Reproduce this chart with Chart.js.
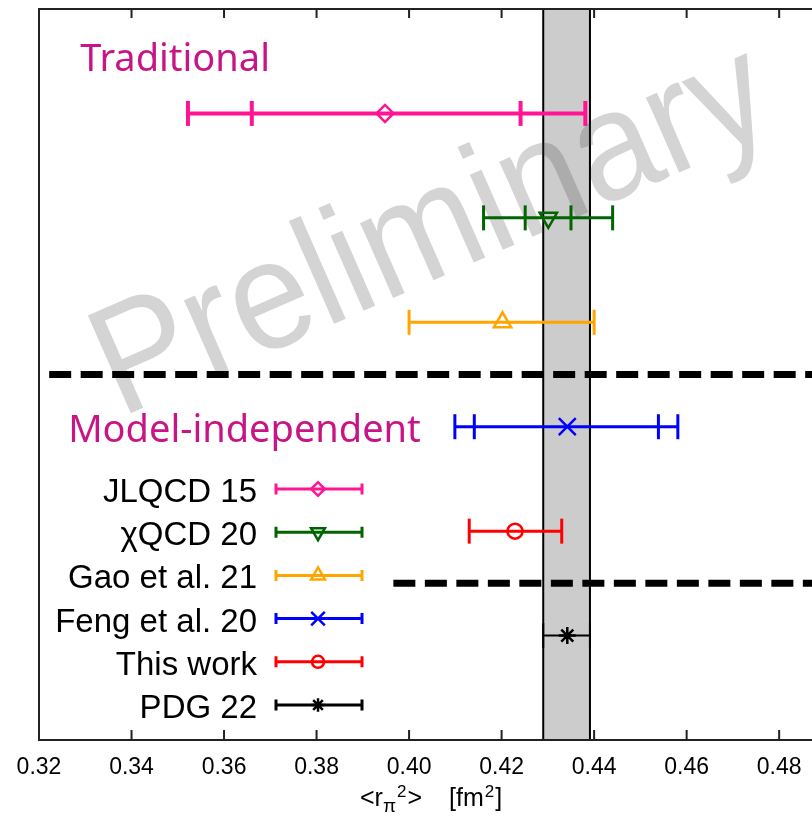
<!DOCTYPE html>
<html>
<head>
<meta charset="utf-8">
<script src="https://cdn.jsdelivr.net/npm/chart.js@4.4.0/dist/chart.umd.min.js"></script>
<style>
  html, body { margin: 0; padding: 0; background: #fff; overflow: hidden; }
</style>
</head>
<body>
<canvas id="chart" width="812" height="819"></canvas>
<script>
// Data
const names = ['JLQCD 15', 'χQCD 20', 'Gao et al. 21', 'Feng et al. 20', 'This work', 'PDG 22'];
const rows = [1, 2, 3, 4, 5, 6];
const centers = [0.3948, 0.4301, 0.4202, 0.4342, 0.4229, 0.4342];
const outerLo = [0.3522, 0.4161, 0.4000, 0.4099, 0.4130, 0.4290];
const outerHi = [0.4381, 0.4440, 0.4400, 0.4581, 0.4330, 0.4391];
const innerLo = [0.3660, 0.4251, null, 0.4141, null, null];
const innerHi = [0.4241, 0.4350, null, 0.4539, null, null];
const colors = ['#ff1493', '#006400', '#ffa500', '#0000ff', '#ff0000', '#000000'];
const markers = ['rectRot', 'triangle', 'triangle', 'crossRot', 'circle', 'star'];
const markerRot = [0, 180, 0, 0, 0, 0];
const markerSize = [8.5, 10, 10, 12, 7.5, 8.5];
const barWidth = [4, 3, 3, 3, 3, 2];

const bandRange = [0.4290, 0.4391];
const dividerRows = [3.5, 5.5];
const dividerStart = [0.3222, 0.3966];
const groupLabels = ['Traditional', 'Model-independent'];
const groupX = [0.3289, 0.3263];
const groupY = [0.594, 4.15];

const xMin = 0.32, xMax = 0.4871, xStep = 0.02;

const datasets = [];
dividerRows.forEach((y, i) => {
    datasets.push({
        data: [{ x: dividerStart[i], y: y }, { x: 0.5, y: y }],
        showLine: true,
        borderColor: '#000',
        borderWidth: 7,
        borderDash: [22, 9.5],
        borderCapStyle: 'butt',
        pointRadius: 0
    });
});
names.forEach((n, i) => {
    const xs = [outerLo[i], innerLo[i], innerHi[i], outerHi[i]].filter(v => v !== null);
    datasets.push({
        data: xs.map(x => ({ x: x, y: rows[i] })),
        showLine: true,
        borderColor: colors[i],
        borderWidth: barWidth[i],
        pointStyle: 'line',
        pointRotation: 90,
        pointRadius: 12.5,
        pointBorderWidth: barWidth[i],
        pointBorderColor: colors[i],
        pointBackgroundColor: colors[i]
    });
    datasets.push({
        data: [{ x: centers[i], y: rows[i] }],
        pointStyle: markers[i],
        pointRotation: markerRot[i],
        pointRadius: markerSize[i],
        pointBorderWidth: 2.5,
        pointBorderColor: colors[i],
        pointBackgroundColor: 'rgba(0,0,0,0)'
    });
});

function drawMarker(ctx, style, rot, r, x, y, color, lw) {
    ctx.save();
    ctx.strokeStyle = color;
    ctx.fillStyle = 'rgba(0,0,0,0)';
    ctx.lineWidth = lw;
    Chart.helpers.drawPoint(ctx, { pointStyle: style, rotation: rot, radius: r, borderWidth: lw }, x, y);
    ctx.restore();
}

const decorPlugin = {
    id: 'decor',
    beforeDatasetsDraw(chart) {
        const ctx = chart.ctx, a = chart.chartArea, xs = chart.scales.x;
        const b0 = xs.getPixelForValue(bandRange[0]), b1 = xs.getPixelForValue(bandRange[1]);
        ctx.save();
        ctx.fillStyle = '#cccccc';
        ctx.fillRect(b0, a.top, b1 - b0, a.bottom - a.top);
        ctx.strokeStyle = '#000';
        ctx.lineWidth = 2;
        ctx.beginPath();
        ctx.moveTo(b0, a.top); ctx.lineTo(b0, a.bottom);
        ctx.moveTo(b1, a.top); ctx.lineTo(b1, a.bottom);
        ctx.stroke();
        // watermark
        ctx.translate(450, 273);
        ctx.rotate(-23.7 * Math.PI / 180);
        ctx.scale(0.93, 1);
        ctx.font = '155px "Liberation Sans"';
        ctx.textAlign = 'center';
        ctx.textBaseline = 'alphabetic';
        ctx.fillStyle = 'rgba(60,60,60,0.22)';
        ctx.fillText('Preliminary', 0, 0);
        ctx.restore();
    },
    afterDatasetsDraw(chart) {
        const ctx = chart.ctx, a = chart.chartArea, xs = chart.scales.x, ys = chart.scales.y;
        ctx.save();
        // frame
        ctx.strokeStyle = '#222';
        ctx.lineWidth = 2;
        ctx.beginPath();
        ctx.moveTo(a.right + 5, a.top); ctx.lineTo(a.left, a.top);
        ctx.lineTo(a.left, a.bottom); ctx.lineTo(a.right + 5, a.bottom);
        ctx.stroke();
        // inward ticks, top and bottom
        ctx.beginPath();
        xs.ticks.forEach(t => {
            const px = xs.getPixelForValue(t.value);
            ctx.moveTo(px, a.bottom); ctx.lineTo(px, a.bottom - 10);
            ctx.moveTo(px, a.top); ctx.lineTo(px, a.top + 9);
        });
        ctx.stroke();
        // group labels
        ctx.font = '38px "Noto Sans"';
        ctx.fillStyle = '#c71585';
        ctx.textAlign = 'left';
        ctx.textBaseline = 'alphabetic';
        groupLabels.forEach((g, i) => {
            ctx.fillText(g, xs.getPixelForValue(groupX[i]), ys.getPixelForValue(groupY[i]));
        });
        // legend
        names.forEach((n, i) => {
            const ly = 489 + i * 43.2;
            ctx.font = '33px "Liberation Sans"';
            ctx.fillStyle = '#000';
            ctx.textAlign = 'right';
            ctx.fillText(n, 257, ly + 13);
            ctx.strokeStyle = colors[i];
            ctx.lineWidth = 3;
            ctx.beginPath();
            ctx.moveTo(276, ly); ctx.lineTo(362, ly);
            ctx.moveTo(276, ly - 5.5); ctx.lineTo(276, ly + 5.5);
            ctx.moveTo(362, ly - 5.5); ctx.lineTo(362, ly + 5.5);
            ctx.stroke();
            drawMarker(ctx, markers[i], markerRot[i], markerSize[i] * 0.8, 318, ly, colors[i], 2.5);
        });
        // axis title  <r_pi^2>  [fm^2]
        const parts = [
            ['<r', 25, 0, 0], ['π', 19, 6, 0], ['2', 17, -9, 1], ['>', 25, 0, 1],
            ['[fm', 25, 0, 27], ['2', 17, -9, 1], [']', 25, 0, 1]
        ];
        let x = 360;
        ctx.textAlign = 'left';
        ctx.fillStyle = '#000';
        parts.forEach(p => {
            ctx.font = p[1] + 'px "Liberation Sans"';
            x += p[3];
            ctx.fillText(p[0], x, 806 + p[2]);
            x += ctx.measureText(p[0]).width;
        });
        ctx.restore();
    }
};

new Chart(document.getElementById('chart'), {
    type: 'scatter',
    data: { datasets: datasets },
    options: {
        responsive: false,
        animation: false,
        devicePixelRatio: 1,
        layout: { autoPadding: false, padding: { top: 9, left: 39, right: 0, bottom: 0 } },
        plugins: { legend: { display: false }, tooltip: { enabled: false } },
        scales: {
            x: {
                type: 'linear',
                min: xMin,
                max: xMax,
                grid: { display: false, drawTicks: false },
                border: { display: false },
                ticks: {
                    stepSize: xStep,
                    includeBounds: false,
                    padding: 14,
                    color: '#000',
                    font: { family: 'Liberation Sans', size: 23 },
                    callback: v => v.toFixed(2),
                    maxRotation: 0
                },
                afterFit: s => {
                    s.height = 79;
                    s.paddingLeft = 0; s.paddingRight = 0;
                }
            },
            y: {
                type: 'linear',
                min: 0,
                max: 7,
                reverse: true,
                display: false
            }
        }
    },
    plugins: [decorPlugin]
});
</script>
</body>
</html>
